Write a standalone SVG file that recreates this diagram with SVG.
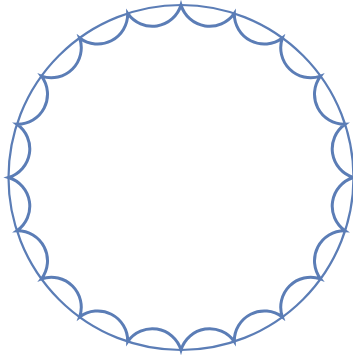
<svg xmlns="http://www.w3.org/2000/svg" width="353" height="356" viewBox="0 0 353 356">
<style>
.ring{fill:none;stroke:#5b7db6;stroke-width:2.2}
.scallop{fill:none;stroke:#5b7db6;stroke-width:3;stroke-linejoin:miter}
</style>
<rect width="353" height="356" fill="#ffffff"/>
<g id="outer-circle">
<circle class="ring" cx="181" cy="177.5" r="172.5"/>
</g>
<g id="scallops">
<path class="scallop" d="M181,5 A30,30 0 0 0 234.31,13.44 A30,30 0 0 0 282.39,37.94 A30,30 0 0 0 320.56,76.11 A30,30 0 0 0 345.06,124.19 A30,30 0 0 0 353.5,177.5 A30,30 0 0 0 345.06,230.81 A30,30 0 0 0 320.56,278.89 A30,30 0 0 0 282.39,317.06 A30,30 0 0 0 234.31,341.56 A30,30 0 0 0 181,350 A30,30 0 0 0 127.69,341.56 A30,30 0 0 0 79.61,317.06 A30,30 0 0 0 41.44,278.89 A30,30 0 0 0 16.94,230.81 A30,30 0 0 0 8.5,177.5 A30,30 0 0 0 16.94,124.19 A30,30 0 0 0 41.44,76.11 A30,30 0 0 0 79.61,37.94 A30,30 0 0 0 127.69,13.44 A30,30 0 0 0 181,5 Z"/>
</g>
</svg>
